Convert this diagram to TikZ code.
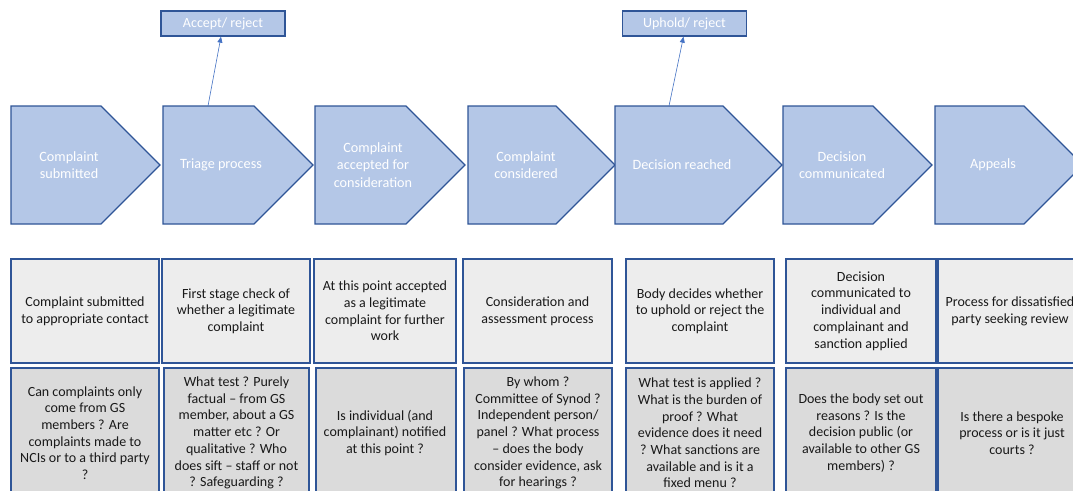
\documentclass[tikz,border=0pt]{standalone}
\usepackage{fontspec}
\setmainfont{Carlito}
\usetikzlibrary{arrows.meta}
\definecolor{chevfill}{HTML}{B4C7E7}
\definecolor{chevline}{HTML}{2F5597}
\definecolor{boxline}{HTML}{2F5597}
\definecolor{lightfill}{HTML}{EDEDED}
\definecolor{darkfill}{HTML}{DBDBDB}
\definecolor{arrowcol}{HTML}{4472C4}
\begin{document}
\begin{tikzpicture}[x=1pt,y=-1pt,
  chev/.style={fill=chevfill,draw=chevline,line width=1.3pt,line join=miter},
  chevtext/.style={text=white,font=\fontsize{14.2}{17.3}\selectfont,align=center,inner sep=0pt},
  lab/.style={fill=chevfill,draw=chevline,line width=1.3pt,text=white,font=\fontsize{14}{17}\selectfont,minimum width=124pt,minimum height=25pt,inner sep=0pt},
  rowone/.style={fill=lightfill,draw=boxline,line width=1.5pt},
  rowtwo/.style={fill=darkfill,draw=boxline,line width=1.5pt},
  boxtext/.style={text=black!90,font=\fontsize{14}{16.7}\selectfont,align=center,inner sep=0pt},
  conn/.style={draw=arrowcol,line width=0.6pt,-{Triangle[width=5pt,length=6pt]}}]
\useasboundingbox (0,0) rectangle (1073,490);
\clip (0,0) rectangle (1073,490);
\fill[white] (0,0) rectangle (1073,490);
% chevrons
\foreach \l/\w in {11/149,163/150,315/150,468/147,615/167,783/149,935/148}{
  \draw[chev] (\l,106) -- ({\l+\w-59},106) -- ({\l+\w},165) -- ({\l+\w-59},224) -- (\l,224) -- cycle;
}
\node[chevtext] (c1) at (69,165) {Complaint\\submitted};
\node[chevtext] (c2) at (221,165) {Triage process};
\node[chevtext] (c3) at (373,165) {Complaint\\accepted for\\consideration};
\node[chevtext] (c4) at (526,165) {Complaint\\considered};
\node[chevtext] (c5) at (682,165) {Decision reached};
\node[chevtext] (c6) at (842,165) {Decision\\communicated};
\node[chevtext] (c7) at (993,165) {Appeals};
\coordinate (t2) at (208,106);
\coordinate (t5) at (669,106);
% labels
\node[lab] (l1) at (223,23.5) {Accept/ reject};
\node[lab] (l2) at (684.5,23.5) {Uphold/ reject};
\draw[conn] (t2) -- ([xshift=-2pt]l1.south);
\draw[conn] (t5) -- ([xshift=-1pt]l2.south);
% row 1
\foreach \a/\b in {11/159,162/310,314/456,463/612,626/774,786/936,938/1086}{
  \draw[rowone] (\a,259) rectangle (\b,363);
}
\node[boxtext] (a1) at (85,311) {Complaint submitted\\to appropriate contact};
\node[boxtext] (a2) at (236,311) {First stage check of\\whether a legitimate\\complaint};
\node[boxtext] (a3) at (385,311) {At this point accepted\\as a legitimate\\complaint for further\\work};
\node[boxtext] (a4) at (537.5,311) {Consideration and\\assessment process};
\node[boxtext] (a5) at (700,311) {Body decides whether\\to uphold or reject the\\complaint};
\node[boxtext] (a6) at (861,311) {Decision\\communicated to\\individual and\\complainant and\\sanction applied};
\node[boxtext] (a7) at (1010,311) {Process for dissatisfied\\party seeking review};
% row 2
\foreach \a/\b in {11/159,164/309,316/456,464/612,626/774,786/936,938/1086}{
  \draw[rowtwo] (\a,368) rectangle (\b,498);
}
\node[boxtext] (b1) at (85,433) {Can complaints only\\come from GS\\members ? Are\\complaints made to\\NCIs or to a third party\\?};
\node[boxtext] (b2) at (236.5,433) {What test ? Purely\\factual – from GS\\member, about a GS\\matter etc ? Or\\qualitative ? Who\\does sift – staff or not\\? Safeguarding ?};
\node[boxtext] (b3) at (385,433) {Is individual (and\\complainant) notified\\at this point ?};
\node[boxtext] (b4) at (538,433) {By whom ?\\Committee of Synod ?\\Independent person/\\panel ? What process\\– does the body\\consider evidence, ask\\for hearings ?};
\node[boxtext] (b5) at (700,433) {What test is applied ?\\What is the burden of\\proof ? What\\evidence does it need\\? What sanctions are\\available and is it a\\fixed menu ?};
\node[boxtext] (b6) at (861,433) {Does the body set out\\reasons ? Is the\\decision public (or\\available to other GS\\members) ?};
\node[boxtext] (b7) at (1012,433) {Is there a bespoke\\process or is it just\\courts ?};
\end{tikzpicture}
\end{document}
